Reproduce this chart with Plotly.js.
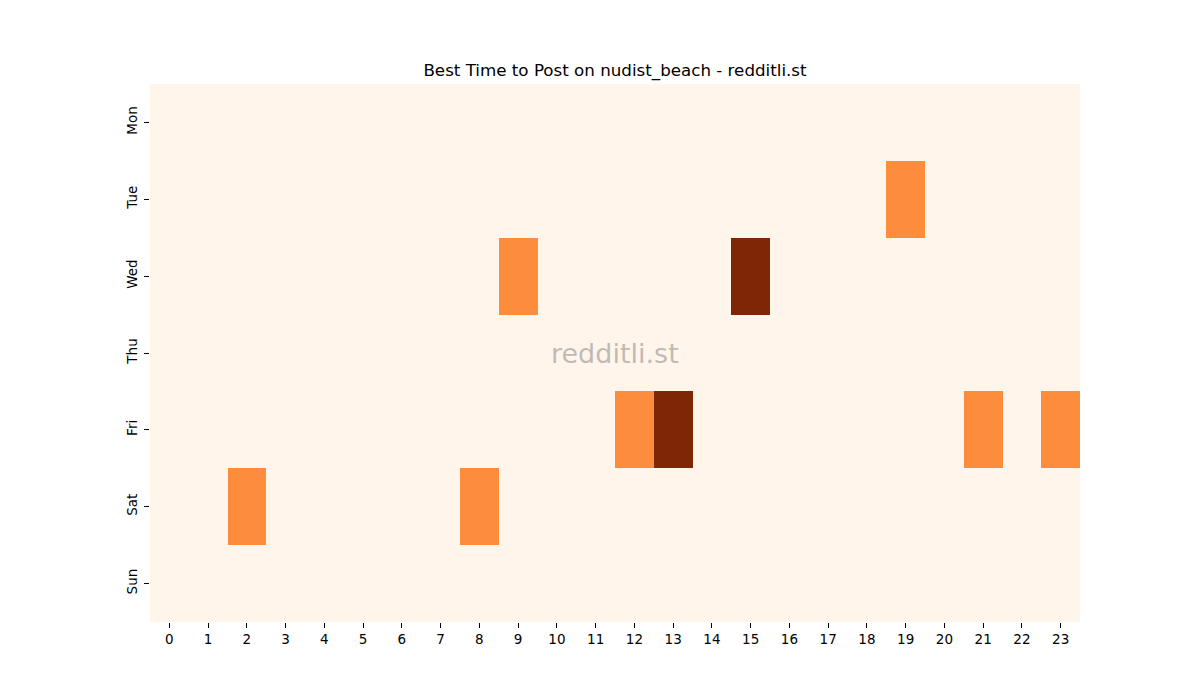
<!DOCTYPE html>
<html>
<head>
<meta charset="utf-8">
<script src="https://cdn.plot.ly/plotly-3.0.1.min.js"></script>
<style>html,body{margin:0;padding:0;background:#fff;}#chart{width:1200px;height:700px;}</style>
</head>
<body>
<div id="chart"></div>
<script>
const days = ["Mon", "Tue", "Wed", "Thu", "Fri", "Sat", "Sun"];
const hours = [0,1,2,3,4,5,6,7,8,9,10,11,12,13,14,15,16,17,18,19,20,21,22,23];
const monValues = [0,0,0,0,0,0,0,0,0,0,0,0,0,0,0,0,0,0,0,0,0,0,0,0];
const tueValues = [0,0,0,0,0,0,0,0,0,0,0,0,0,0,0,0,0,0,0,1,0,0,0,0];
const wedValues = [0,0,0,0,0,0,0,0,0,1,0,0,0,0,0,2,0,0,0,0,0,0,0,0];
const thuValues = [0,0,0,0,0,0,0,0,0,0,0,0,0,0,0,0,0,0,0,0,0,0,0,0];
const friValues = [0,0,0,0,0,0,0,0,0,0,0,0,1,2,0,0,0,0,0,0,0,1,0,1];
const satValues = [0,0,1,0,0,0,0,0,1,0,0,0,0,0,0,0,0,0,0,0,0,0,0,0];
const sunValues = [0,0,0,0,0,0,0,0,0,0,0,0,0,0,0,0,0,0,0,0,0,0,0,0];
const titleText = "Best Time to Post on nudist_beach - redditli.st";
const watermark = "redditli.st";

const z = [monValues, tueValues, wedValues, thuValues, friValues, satValues, sunValues];
const font = "DejaVu Sans, sans-serif";

const trace = {
  type: "heatmap",
  x: hours,
  y: days,
  z: z,
  zmin: 0,
  zmax: 2,
  colorscale: [[0, "#fff5eb"], [0.5, "#fd8d3c"], [1, "#7f2704"]],
  showscale: false,
  xgap: 0,
  ygap: 0,
  hoverinfo: "x+y+z"
};

const layout = {
  width: 1200,
  height: 700,
  margin: {l: 150, r: 120, t: 84, b: 78},
  paper_bgcolor: "#ffffff",
  plot_bgcolor: "#ffffff",
  font: {family: font, color: "#000000", size: 13.5},
  title: {
    text: titleText,
    font: {family: font, size: 16.7, color: "#000000"},
    x: 0.5, xanchor: "center",
    xref: "paper",
    y: 0.9, yref: "container", yanchor: "middle"
  },
  xaxis: {
    tickmode: "array",
    tickvals: hours,
    ticktext: hours.map(String),
    range: [-0.5, 23.5],
    ticks: "outside",
    ticklen: 5,
    tickwidth: 1,
    tickcolor: "#000000",
    showgrid: false,
    zeroline: false,
    showline: false,
    tickangle: 0,
    tickfont: {family: font, size: 13.5, color: "#000000"}
  },
  yaxis: {
    type: "category",
    autorange: "reversed",
    ticks: "outside",
    ticklen: 5,
    tickwidth: 1,
    tickcolor: "#000000",
    showgrid: false,
    zeroline: false,
    showline: false,
    tickangle: -90,
    ticklabelstandoff: 2,
    tickfont: {family: font, size: 13.5, color: "#000000"}
  },
  annotations: [{
    text: watermark,
    xref: "paper", yref: "paper",
    x: 0.5, y: 0.5,
    xanchor: "center", yanchor: "middle",
    showarrow: false,
    font: {family: font, size: 27, color: "rgba(128,128,128,0.5)"}
  }]
};

Plotly.newPlot("chart", [trace], layout, {displayModeBar: false, staticPlot: true});
</script>
</body>
</html>
